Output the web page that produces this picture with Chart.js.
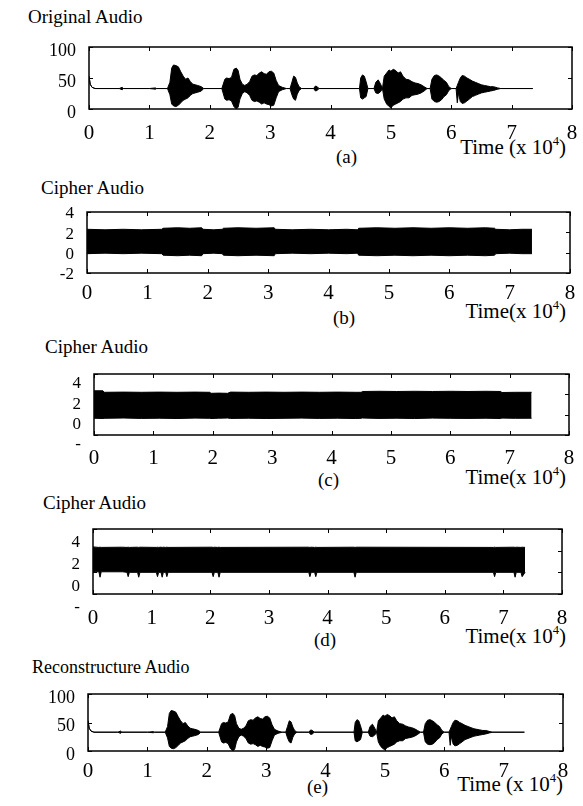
<!DOCTYPE html>
<html><head><meta charset="utf-8">
<script src="https://cdn.jsdelivr.net/npm/chart.js@4.4.1/dist/chart.umd.min.js"></script>
<style>
html,body{margin:0;padding:0;background:#fff;}
body{width:583px;height:806px;position:relative;overflow:hidden;font-family:"Liberation Serif","Times New Roman",serif;color:#000;}
.t{position:absolute;white-space:nowrap;line-height:1;}
.s{font-size:0.6em;vertical-align:0.75em;line-height:0;}
canvas{position:absolute;}
</style></head><body>
<div class="t" style="left:28px;top:7px;font-size:19px">Original Audio</div>
<div class="t" style="left:336px;top:147px;font-size:19px">(a)</div>
<div class="t" style="right:17px;top:137px;font-size:21px">Time (x 10<sup class="s">4</sup>)</div>

<div class="t" style="left:41px;top:178px;font-size:19px">Cipher Audio</div>
<div class="t" style="left:333px;top:308px;font-size:19px">(b)</div>
<div class="t" style="right:17px;top:301px;font-size:21px">Time(x 10<sup class="s">4</sup>)</div>

<div class="t" style="left:45px;top:337px;font-size:19px">Cipher Audio</div>
<div class="t" style="left:318px;top:470px;font-size:19px">(c)</div>
<div class="t" style="right:17px;top:467px;font-size:21px">Time(x 10<sup class="s">4</sup>)</div>

<div class="t" style="left:43px;top:493px;font-size:19px">Cipher Audio</div>
<div class="t" style="left:314px;top:630px;font-size:19px">(d)</div>
<div class="t" style="right:17px;top:626px;font-size:21px">Time(x 10<sup class="s">4</sup>)</div>

<div class="t" style="left:32px;top:658px;font-size:18px">Reconstructure Audio</div>
<div class="t" style="left:307px;top:777px;font-size:19px">(e)</div>
<div class="t" style="right:20px;top:774px;font-size:21px">Time (x 10<sup class="s">4</sup>)</div>

<canvas id="ca"></canvas><canvas id="cb"></canvas><canvas id="cc"></canvas><canvas id="cd"></canvas><canvas id="ce"></canvas>
<script>
// ---- tick values / labels ----
const xTicks = [0, 1, 2, 3, 4, 5, 6, 7, 8];
const xTickLabels = ['0', '1', '2', '3', '4', '5', '6', '7', '8'];
const audioYTicks = [0, 50, 100];
const audioYLabels = ['0', '50', '100'];
const cipherYTicks = [-2, 0, 2, 4];
const cipherYLabelsB = ['-2', '0', '2', '4'];
const cipherYLabelsCD = ['-', '0', '2', '4'];

// ---- original audio envelope (time in 10^4 samples) ----
const origX = [0,0.02,0.05,0.1,0.5,0.55,0.57,1.0,1.1,1.12,
  1.3,1.34,1.37,1.4,1.44,1.48,1.52,1.56,1.6,1.64,
  1.68,1.72,1.76,1.8,1.86,1.9,2.2,2.25,2.28,2.32,
  2.36,2.4,2.44,2.47,2.5,2.54,2.58,2.62,2.66,2.7,
  2.74,2.78,2.82,2.86,2.9,2.94,2.98,3.02,3.06,3.1,
  3.14,3.2,3.27,3.33,3.36,3.39,3.42,3.45,3.48,3.52,
  3.72,3.75,3.78,3.81,4.48,4.5,4.53,4.56,4.59,4.62,
  4.72,4.75,4.79,4.83,4.86,4.89,4.93,4.97,5.0,5.04,
  5.08,5.12,5.16,5.2,5.25,5.3,5.35,5.4,5.45,5.5,
  5.55,5.6,5.65,5.68,5.72,5.76,5.8,5.84,5.88,5.92,
  5.96,6.0,6.08,6.1,6.12,6.15,6.18,6.22,6.26,6.3,
  6.35,6.4,6.45,6.5,6.55,6.6,6.65,6.7,6.77,6.82,
  7.35];
const origUpper = [53,40,35,33,33,35,33,33,34,33,
  33,43,66,71,70,68,60,53,48,50,
  44,40,39,38,36,33,33,48,50,49,
  51,64,66,62,48,40,38,40,44,53,
  55,54,58,60,57,56,60,61,58,46,
  38,35,33,33,43,53,51,42,36,33,
  33,37,36,33,33,50,55,53,44,33,
  33,43,47,40,33,53,58,63,61,64,
  62,58,60,53,48,47,44,42,41,39,
  36,33,33,48,54,55,53,50,46,43,
  36,33,33,38,43,50,54,53,50,48,
  45,43,41,39,38,37,36,36,34,33,
  33];
const origLower = [53,40,35,33,33,31,33,33,32,33,
  33,23,8,5,4,6,10,14,16,18,
  22,25,26,27,29,33,33,16,14,15,
  13,4,0,3,16,25,28,26,22,14,
  12,13,11,8,10,8,7,5,6,18,
  28,31,33,33,23,16,14,24,30,33,
  33,29,30,33,33,18,16,18,20,33,
  33,26,25,28,33,16,8,4,2,6,
  8,10,12,16,18,18,22,23,24,26,
  29,33,33,16,12,11,12,15,20,23,
  30,33,33,10,26,12,9,10,13,16,
  20,22,24,26,27,28,29,30,32,33,
  33];

// ---- reconstructed audio envelope (same as original) ----
const recX = origX;
const recUpper = origUpper;
const recLower = origLower;

// ---- cipher audio (b) envelope ----
const bX = [0,0.3,0.6,0.9,1.24,1.26,1.5,1.7,1.9,1.92,2.1,2.24,2.26,2.5,2.8,3.1,3.12,3.4,3.7,4.0,4.3,4.48,4.5,4.8,5.1,5.4,5.7,6.0,6.3,6.6,6.75,6.77,7.0,7.2,7.37];
const bUpper = [2.3,2.25,2.3,2.25,2.3,2.4,2.45,2.4,2.45,2.3,2.25,2.3,2.4,2.45,2.4,2.45,2.3,2.25,2.3,2.25,2.3,2.25,2.4,2.45,2.4,2.45,2.4,2.45,2.4,2.45,2.4,2.3,2.25,2.3,2.3];
const bLower = [-0.1,-0.05,-0.1,-0.05,-0.1,-0.25,-0.3,-0.25,-0.3,-0.1,-0.05,-0.1,-0.25,-0.3,-0.25,-0.3,-0.1,-0.05,-0.1,-0.05,-0.1,-0.05,-0.25,-0.3,-0.25,-0.3,-0.25,-0.3,-0.25,-0.3,-0.25,-0.1,-0.05,-0.1,-0.1];

// ---- cipher audio (c) envelope ----
const cX = [0,0.15,0.17,0.5,0.8,1.1,1.4,1.7,1.95,1.97,2.1,2.25,2.3,2.6,2.9,3.2,3.5,3.8,4.1,4.4,4.5,4.52,4.8,5.1,5.4,5.7,6.0,6.3,6.6,6.85,6.87,7.1,7.37];
const cUpper = [2.35,2.35,2.2,2.22,2.2,2.22,2.2,2.22,2.2,2.1,2.12,2.1,2.22,2.2,2.22,2.2,2.22,2.2,2.22,2.2,2.2,2.28,2.3,2.28,2.3,2.28,2.3,2.28,2.3,2.28,2.18,2.2,2.2];
const cLower = [-0.35,-0.38,-0.36,-0.33,-0.37,-0.35,-0.38,-0.34,-0.36,-0.38,-0.35,-0.33,-0.37,-0.35,-0.38,-0.36,-0.34,-0.37,-0.35,-0.38,-0.36,-0.33,-0.37,-0.35,-0.38,-0.34,-0.36,-0.37,-0.35,-0.38,-0.34,-0.36,-0.35];

// ---- cipher audio (d) envelope ----
const dX = [0,0.1,0.12,0.14,0.5,0.58,0.6,0.62,0.76,0.78,0.8,1.08,1.1,1.12,1.16,1.18,1.2,1.24,1.26,1.28,2.03,2.05,2.07,2.13,2.15,2.17,3.68,3.7,3.72,3.78,3.8,3.82,4.45,4.47,4.49,6.83,6.85,6.87,7.18,7.2,7.22,7.3,7.32,7.37];
const dUpper = [2.35,2.3,2.32,2.3,2.32,2.3,2.32,2.3,2.32,2.3,2.32,2.3,2.32,2.3,2.32,2.3,2.32,2.3,2.32,2.3,2.32,2.3,2.32,2.3,2.32,2.3,2.32,2.3,2.32,2.3,2.32,2.3,2.32,2.3,2.32,2.3,2.32,2.3,2.32,2.3,2.32,2.3,2.32,2.3];
const dLower = [0.05,0.05,-0.45,0.05,0.05,0.0,-0.4,0.0,0.0,-0.45,0.0,0.0,-0.4,0.0,0.0,-0.45,0.0,0.0,-0.4,0.0,0.0,-0.4,0.0,0.0,-0.45,0.0,0.0,-0.4,0.0,0.0,-0.4,0.0,0.0,-0.45,0.0,0.0,-0.4,0.0,0.0,-0.45,0.0,0.0,-0.4,0.0];

// ---- layout ----
const Y_AXIS_W = 44, X_AXIS_H = 34, PAD_TOP = 16, PAD_RIGHT = 16;
const FONT = "'Liberation Serif', serif";
Chart.defaults.font.family = FONT;
Chart.defaults.color = '#000';

const framePlugin = {
  id: 'frame',
  afterDatasetsDraw(chart) {
    const {ctx, chartArea: a, scales} = chart;
    const x = scales.x, y = scales.y;
    ctx.save();
    ctx.strokeStyle = '#000';
    ctx.lineWidth = 1.5;
    ctx.strokeRect(a.left, a.top, a.right - a.left, a.bottom - a.top);
    ctx.lineWidth = 1;
    ctx.beginPath();
    x.ticks.forEach(t => {
      const p = Math.round(x.getPixelForValue(t.value)) + 0.5;
      ctx.moveTo(p, a.bottom); ctx.lineTo(p, a.bottom - 4);
      ctx.moveTo(p, a.top); ctx.lineTo(p, a.top + 4);
    });
    y.ticks.forEach(t => {
      const p = Math.round(y.getPixelForValue(t.value)) + 0.5;
      ctx.moveTo(a.left, p); ctx.lineTo(a.left + 4, p);
      ctx.moveTo(a.right, p); ctx.lineTo(a.right - 4, p);
    });
    ctx.stroke();
    ctx.restore();
  }
};

function makePanel(id, box, xs, up, lo, yMin, yMax, yTicks, yLabels, look) {
  const cv = document.getElementById(id);
  const w = (box.R - box.L) + Y_AXIS_W + PAD_RIGHT;
  const h = (box.B - box.T) + PAD_TOP + X_AXIS_H;
  cv.width = w; cv.height = h;
  cv.style.left = (box.L - Y_AXIS_W) + 'px';
  cv.style.top = (box.T - PAD_TOP) + 'px';
  cv.style.width = w + 'px'; cv.style.height = h + 'px';
  new Chart(cv.getContext('2d'), {
    type: 'line',
    data: {
      datasets: [
        {data: xs.map((v, i) => ({x: v, y: up[i]})), borderColor: '#000', backgroundColor: '#000',
         borderWidth: 1, pointRadius: 0, tension: 0, fill: '+1'},
        {data: xs.map((v, i) => ({x: v, y: lo[i]})), borderColor: '#000', backgroundColor: '#000',
         borderWidth: 1, pointRadius: 0, tension: 0, fill: false}
      ]
    },
    options: {
      responsive: false, animation: false, devicePixelRatio: 1,
      layout: {padding: {top: PAD_TOP, right: PAD_RIGHT, left: 0, bottom: 0}},
      plugins: {legend: {display: false}, tooltip: {enabled: false}},
      scales: {
        x: {
          type: 'linear', min: 0, max: 8,
          afterBuildTicks: s => { s.ticks = xTicks.map(v => ({value: v})); },
          afterFit: s => { s.height = X_AXIS_H; },
          ticks: {color: '#000', font: {family: FONT, size: 21}, padding: look.xPad, maxRotation: 0, autoSkip: false,
                  callback: (v, i) => xTickLabels[i]},
          grid: {display: false}, border: {display: false}
        },
        y: {
          type: 'linear', min: yMin, max: yMax,
          afterBuildTicks: s => { s.ticks = yTicks.map(v => ({value: v})); },
          afterFit: s => { s.width = Y_AXIS_W; },
          ticks: {color: '#000', font: {family: FONT, size: look.yFont}, padding: 5, autoSkip: false,
                  labelOffset: look.yOff, callback: (v, i) => yLabels[i]},
          grid: {display: false}, border: {display: false}
        }
      }
    },
    plugins: [framePlugin]
  });
}

makePanel('ca', {L: 89, R: 572, T: 47, B: 109}, origX, origUpper, origLower, 0, 100, audioYTicks, audioYLabels, {xPad: 4, yOff: 4, yFont: 18});
makePanel('cb', {L: 87, R: 570, T: 212, B: 273}, bX, bUpper, bLower, -2, 4, cipherYTicks, cipherYLabelsB, {xPad: 0, yOff: 2, yFont: 17});
makePanel('cc', {L: 94, R: 569, T: 374, B: 435}, cX, cUpper, cLower, -2, 4, cipherYTicks, cipherYLabelsCD, {xPad: 3, yOff: 10, yFont: 17});
makePanel('cd', {L: 93, R: 562, T: 529, B: 594}, dX, dUpper, dLower, -2, 4, cipherYTicks, cipherYLabelsCD, {xPad: 4, yOff: 14, yFont: 17});
makePanel('ce', {L: 88, R: 563, T: 694, B: 751}, recX, recUpper, recLower, 0, 100, audioYTicks, audioYLabels, {xPad: 0, yOff: 4, yFont: 18});
</script>
</body></html>
